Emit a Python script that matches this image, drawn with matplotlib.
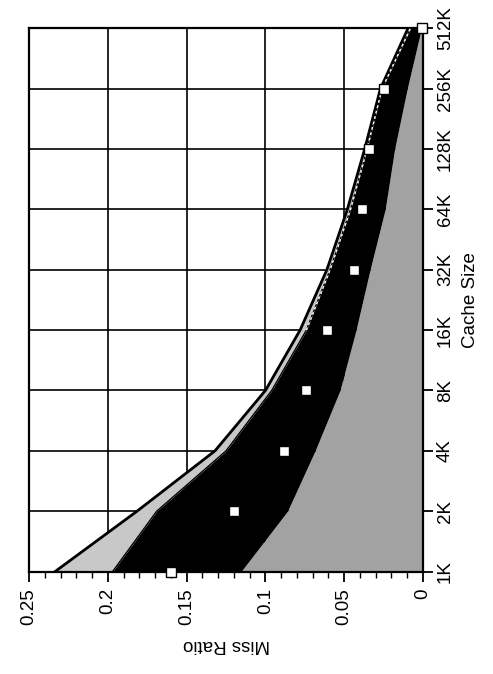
import numpy as np
import matplotlib
matplotlib.use('Agg')
import matplotlib.pyplot as plt

plt.rcParams['font.family'] = ['Liberation Sans', 'DejaVu Sans']

# cache sizes, one row per size
cache_sizes = ['1K', '2K', '4K', '8K', '16K', '32K', '64K', '128K', '256K', '512K']

# miss ratio curves
outer_upper = [0.2335, 0.1815, 0.132, 0.100, 0.078, 0.061, 0.048, 0.037, 0.027, 0.0095]
band_lower = [0.197, 0.169, 0.125, 0.096, 0.074, 0.059, 0.046, 0.0355, 0.026, 0.008]
dark_lower = [0.1155, 0.086, 0.0685, 0.0527, 0.0425, 0.0336, 0.024, 0.018, 0.010, 0.001]
markers = [0.160, 0.120, 0.088, 0.074, 0.061, 0.044, 0.0387, 0.034, 0.025, 0.0005]

pos = np.arange(len(cache_sizes))

fig = plt.figure(figsize=(4.93, 6.74), dpi=100)
ax = fig.add_axes([0.059, 0.152, 0.799, 0.806])

# stippled region under the curves
ax.fill_betweenx(pos, 0, dark_lower, color='#a2a2a2', lw=0, zorder=2)
# black band
ax.fill_betweenx(pos, dark_lower, band_lower, color='black', lw=0, zorder=2)
# light gray band on top
ax.fill_betweenx(pos, band_lower, outer_upper, color='#c8c8c8', lw=0, zorder=2)
ax.plot(outer_upper, pos, color='black', lw=2, zorder=3)
ax.plot(band_lower, pos, color='black', lw=1, zorder=3)
ax.plot(band_lower[4:], pos[4:], color='white', lw=1, ls=(0, (2, 2)), zorder=3)

ax.plot(markers, pos, ls='none', marker='s', ms=6.5, mfc='white', mec='black',
        mew=1, zorder=4, clip_on=False)

ax.set_xlim(0.25, 0)
ax.set_ylim(0, len(cache_sizes) - 1)

ax.set_xticks([0.25, 0.2, 0.15, 0.1, 0.05, 0])
ax.set_xticklabels(['0.25', '0.2', '0.15', '0.1', '0.05', '0'])
ax.set_xticks(np.arange(0, 0.2501, 0.01), minor=True)
ax.tick_params(axis='x', which='major', direction='out', length=7, width=1.3,
               labelsize=13.5, labelrotation=90, pad=5)
ax.tick_params(axis='x', which='minor', direction='out', length=4, width=1)

ax.yaxis.tick_right()
ax.set_yticks(pos)
ax.set_yticklabels(cache_sizes, va='center')
ax.tick_params(axis='y', direction='out', length=7, width=1.3,
               labelsize=13.5, labelrotation=90, pad=3)
ax.yaxis.set_label_position('right')

ax.grid(True, which='major', color='black', lw=1.2, zorder=1)
ax.set_axisbelow(True)
for s in ax.spines.values():
    s.set_linewidth(1.6)

ax.set_xlabel('Miss Ratio', rotation=180, fontsize=13.5, labelpad=8)
ax.set_ylabel('Cache Size', rotation=90, fontsize=13.5, labelpad=6)

fig.savefig('out.png', dpi=100)
